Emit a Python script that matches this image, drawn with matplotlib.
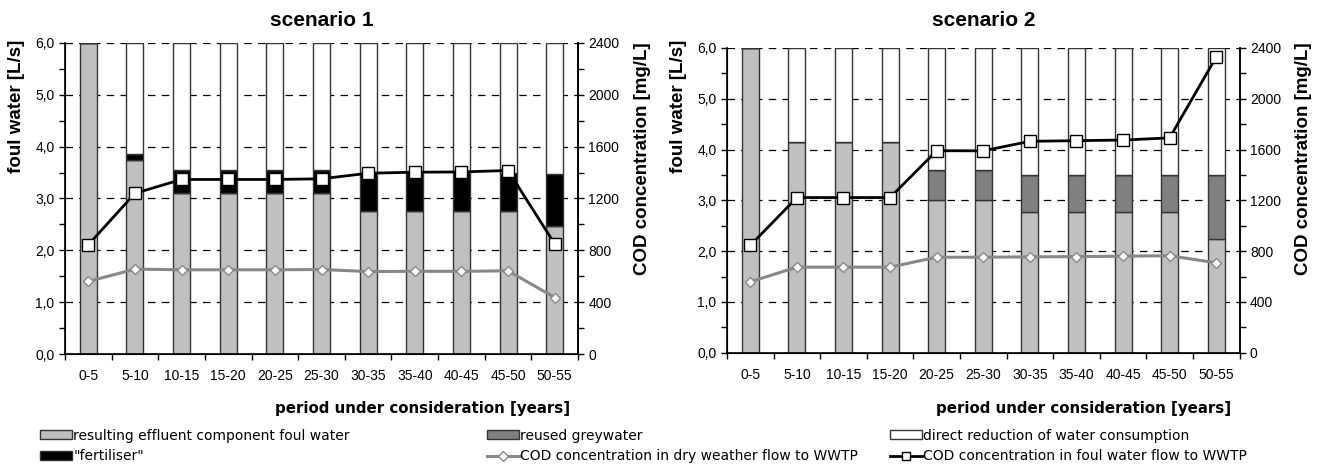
import numpy as np
import matplotlib.pyplot as plt
from matplotlib.patches import Patch
from matplotlib.lines import Line2D
from matplotlib.ticker import MultipleLocator, FuncFormatter

periods = ['0-5', '5-10', '10-15', '15-20', '20-25', '25-30',
           '30-35', '35-40', '40-45', '45-50', '50-55']

# scenario 1  (foul water, L/s)
s1_effluent = [6.0, 3.74, 3.10, 3.10, 3.10, 3.10, 2.76, 2.76, 2.76, 2.76, 2.46]
s1_fertiliser = [0.0, 0.12, 0.45, 0.45, 0.45, 0.45, 0.74, 0.74, 0.74, 0.74, 1.01]
s1_greywater = [0.0] * 11
s1_reduction = [0.0, 2.14, 2.45, 2.45, 2.45, 2.45, 2.50, 2.50, 2.50, 2.50, 2.53]
s1_cod_dry = [560, 655, 650, 650, 650, 652, 636, 638, 638, 642, 436]
s1_cod_foul = [843, 1240, 1347, 1347, 1347, 1352, 1395, 1403, 1405, 1416, 850]

# scenario 2
s2_effluent = [6.0, 4.14, 4.14, 4.14, 3.01, 3.01, 2.78, 2.78, 2.78, 2.78, 2.24]
s2_fertiliser = [0.0] * 11
s2_greywater = [0.0, 0.0, 0.0, 0.0, 0.59, 0.59, 0.72, 0.72, 0.72, 0.72, 1.26]
s2_reduction = [0.0, 1.86, 1.86, 1.86, 2.40, 2.40, 2.50, 2.50, 2.50, 2.50, 2.50]
s2_cod_dry = [558, 674, 674, 674, 752, 752, 755, 757, 760, 764, 708]
s2_cod_foul = [845, 1222, 1222, 1222, 1591, 1590, 1665, 1670, 1675, 1692, 2329]

c_eff = '#c0c0c0'
c_grey = '#808080'
c_fert = '#000000'
c_red = '#ffffff'
edge = '#333333'

plt.rcParams['font.family'] = ['Liberation Sans', 'DejaVu Sans']

fig = plt.figure(figsize=(13.23, 4.65), dpi=100)
W, H = 1323, 465


def panel(box, title, title_pad, eff, fert, grey, red, cod_dry, cod_foul):
    x0, y0, x1, y1 = box
    ax = fig.add_axes([x0 / W, 1 - y1 / H, (x1 - x0) / W, (y1 - y0) / H])
    hpx = y1 - y0
    x = np.arange(len(periods))
    eff = np.array(eff)
    fert = np.array(fert)
    grey = np.array(grey)
    red = np.array(red)
    bw = 0.365
    kw = dict(width=bw, edgecolor=edge, linewidth=1.0, zorder=2)
    ax.bar(x, eff, color=c_eff, **kw)
    ax.bar(x, grey, bottom=eff, color=c_grey, **kw)
    ax.bar(x, fert, bottom=eff + grey, color=c_fert, **kw)
    ax.bar(x, red, bottom=eff + grey + fert, color=c_red, **kw)

    ax.set_xlim(-0.5, len(periods) - 0.5)
    ax.set_ylim(0, 6)
    ax.yaxis.set_major_locator(MultipleLocator(1))
    ax.yaxis.set_minor_locator(MultipleLocator(0.5))
    ax.yaxis.set_major_formatter(FuncFormatter(lambda v, p: f'{v:.1f}'.replace('.', ',')))
    ax.set_xticks(x)
    ax.set_xticklabels(periods)
    ax.set_xticks(np.arange(len(periods) + 1) - 0.5, minor=True)
    ax.tick_params(axis='x', which='major', length=0, pad=11, labelsize=10)
    ax.tick_params(axis='x', which='minor', length=4, width=1, direction='out')
    ax.tick_params(axis='y', which='both', length=4, width=1, direction='out', labelsize=10)
    ax.yaxis.grid(True, which='major', linestyle=(0, (6, 5)), color='black', linewidth=0.9)
    ax.set_axisbelow(True)
    ax.spines['top'].set_visible(False)
    for s in ['left', 'bottom', 'right']:
        ax.spines[s].set_linewidth(1.2)
    ax.set_ylabel('foul water [L/s]', fontsize=13.5, fontweight='bold',
                  rotation=90, rotation_mode='default', ha='center', va='top')
    ax.yaxis.set_label_coords(-0.095, (y1 - 40) / hpx)
    ax.set_xlabel('period under consideration [years]', family='DejaVu Sans',
                  fontsize=10.8, fontweight='bold', ha='right', va='center')
    ax.xaxis.set_label_coords(0.984, -(408 - y1) / hpx)
    ax.set_title(title, fontsize=15, fontweight='bold', pad=title_pad)

    ax2 = ax.twinx()
    ax2.set_ylim(0, 2400)
    ax2.yaxis.set_major_locator(MultipleLocator(400))
    ax2.yaxis.set_minor_locator(MultipleLocator(200))
    ax2.tick_params(axis='y', which='both', length=4, width=1, direction='out', labelsize=10)
    ax2.spines['top'].set_visible(False)
    ax2.spines['right'].set_linewidth(1.2)
    ax2.set_ylabel('COD concentration [mg/L]', fontsize=13.5, fontweight='bold',
                   rotation=90, rotation_mode='default', ha='center', va='top')
    ax2.yaxis.set_label_coords(1.125, (y1 - 42) / hpx)
    ax2.plot(x, cod_dry, color='#888888', linewidth=2.2, marker='D', markersize=5,
             markerfacecolor='white', markeredgecolor='#888888', markeredgewidth=1, zorder=3)
    ax2.plot(x, cod_foul, color='black', linewidth=2, marker='s', markersize=8,
             markerfacecolor='white', markeredgecolor='black', markeredgewidth=1, zorder=4)
    return ax, ax2


panel((65, 43, 578, 354), 'scenario 1', 12.5, s1_effluent, s1_fertiliser, s1_greywater,
      s1_reduction, s1_cod_dry, s1_cod_foul)
panel((727, 48, 1239.5, 352.7), 'scenario 2', 16, s2_effluent, s2_fertiliser, s2_greywater,
      s2_reduction, s2_cod_dry, s2_cod_foul)

# legend, three columns
h_eff = Patch(facecolor=c_eff, edgecolor=edge, linewidth=1)
h_fert = Patch(facecolor=c_fert, edgecolor=edge, linewidth=1)
h_grey = Patch(facecolor=c_grey, edgecolor=edge, linewidth=1)
h_red = Patch(facecolor=c_red, edgecolor=edge, linewidth=1)
h_dry = Line2D([], [], color='#888888', linewidth=2.2, marker='D', markersize=5,
               markerfacecolor='white', markeredgecolor='#888888')
h_foul = Line2D([], [], color='black', linewidth=2, marker='s', markersize=6,
                markerfacecolor='white', markeredgecolor='black')

cols = [
    (40, [h_eff, h_fert], ['resulting effluent component foul water', '"fertiliser"']),
    (487, [h_grey, h_dry], ['reused greywater', 'COD concentration in dry weather flow to WWTP']),
    (890, [h_red, h_foul], ['direct reduction of water consumption',
                            'COD concentration in foul water flow to WWTP']),
]
for xpos, hs, ls in cols:
    fig.legend(hs, ls, loc='center left', bbox_to_anchor=(xpos / W, 1 - 446 / H),
               frameon=False, prop={'family': 'DejaVu Sans', 'size': 10},
               handlelength=2.3, handleheight=0.6, handletextpad=0.1,
               labelspacing=0.5, borderpad=0, borderaxespad=0)

fig.savefig('out.png', dpi=100)
